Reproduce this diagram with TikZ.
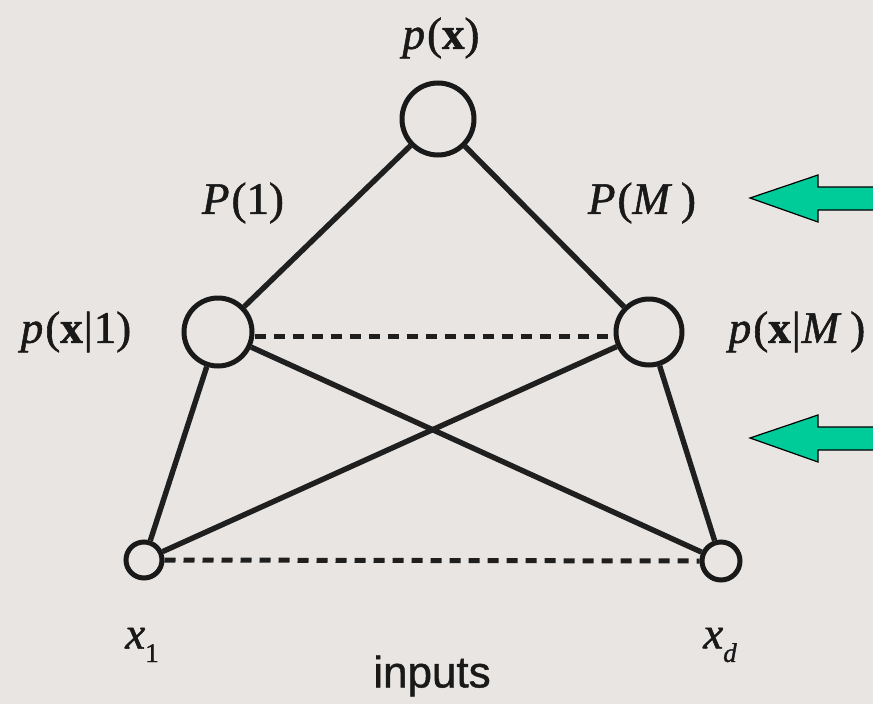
\documentclass[tikz,border=0pt]{standalone}
\usepackage{fontspec}
\setmainfont{Liberation Serif}
\newfontfamily\heavy{Liberation Serif}[FakeBold=1.2,ItalicFeatures={FakeBold=1.2},BoldFeatures={FakeBold=1.2}]
\newfontfamily\lsans{Liberation Sans}[FakeBold=1]
\definecolor{paper}{RGB}{233,229,227}
\definecolor{arrowgreen}{RGB}{0,204,153}
\newcommand{\lbl}{\heavy\fontsize{45}{50}\selectfont}
\newcommand{\sbs}[1]{\raisebox{-0.3em}{\fontsize{27}{28}\selectfont #1}}
\newcommand{\gp}{\kern2pt}
\begin{document}
\begin{tikzpicture}[x=1pt,y=-1pt,
  unit/.style={circle,draw=black!90,line width=5pt,inner sep=0pt,minimum size=#1},
  edge/.style={draw=black!88,line width=5.4pt},
  dedge/.style={draw=black!88,line width=5pt,dash pattern=on 11pt off 8pt},
  lab/.style={inner sep=0pt,text=black!90,font=\lbl},
  bigarrow/.style={fill=arrowgreen,draw=black,line width=1.2pt,line join=miter}]
\useasboundingbox (0,0) rectangle (873,704);
\fill[paper] (0,0) rectangle (873,704);
\begin{scope}
\clip (0,0) rectangle (873,704);
% nodes
\node[unit=72pt] (top) at (438,119) {};
\node[unit=68pt] (m1) at (218,332) {};
\node[unit=66pt] (mM) at (649,332) {};
\node[unit=36pt] (x1) at (144,560) {};
\node[unit=38pt] (xd) at (721,561) {};
% edges
\draw[edge] (top) -- (m1);
\draw[edge] (top) -- (mM);
\draw[edge] (m1) -- (x1);
\draw[edge] (m1) -- (xd);
\draw[edge] (mM) -- (x1);
\draw[edge] (mM) -- (xd);
\draw[dedge] ([yshift=-4pt]m1.east) -- ([yshift=-4pt]mM.west);
\draw[dedge] (x1.east) -- (xd.west);
% labels
\node[lab] (lpx) at (441,38) {\textit{p}\gp(\textbf{x})};
\node[lab] (lP1) at (243,203) {\textit{P}\gp(1)};
\node[lab] (lPM) at (642,203) {\textit{P}\gp(\textit{M}\kern9pt)};
\node[lab] (lpx1) at (76,332) {\textit{p}\gp(\textbf{x}\kern1pt|\kern1pt1)};
\node[lab] (lpxM) at (797,332) {\textit{p}\gp(\textbf{x}\kern1pt|\kern1pt\textit{M}\kern9pt)};
\node[lab] (lx1) at (142,645) {\textit{x}\sbs{1}};
\node[lab] (lxd) at (720,645) {\textit{x}\sbs{\textit{d}}};
\node[inner sep=0pt,text=black!90,font=\lsans\fontsize{44}{48}\selectfont] (linputs) at (432,676) {inputs};
% green arrows
\filldraw[bigarrow] (750,198) -- (818,175) -- (818,187) -- (890,187) -- (890,210) -- (818,210) -- (818,222) -- cycle;
\filldraw[bigarrow] (750,438) -- (818,415) -- (818,427) -- (890,427) -- (890,450) -- (818,450) -- (818,462) -- cycle;
\end{scope}
\end{tikzpicture}
\end{document}
